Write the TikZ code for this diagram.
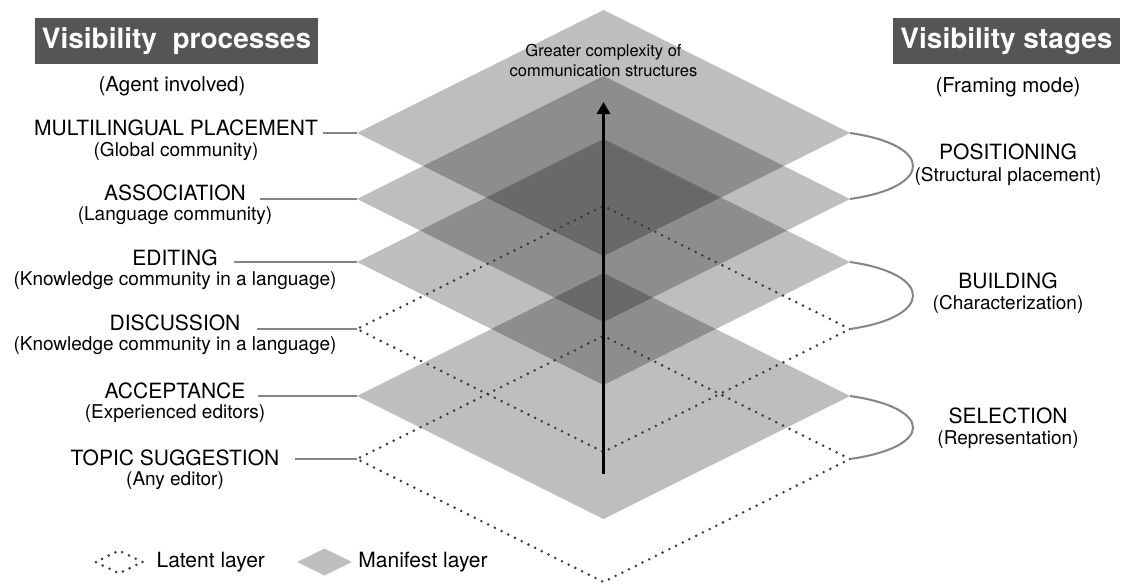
\documentclass[tikz,border=0pt]{standalone}
\usepackage{fontspec}
\setmainfont{TeX Gyre Heros}
\usetikzlibrary{shapes.geometric,arrows.meta,positioning}
\definecolor{headgray}{HTML}{555555}
\definecolor{conngray}{HTML}{858585}
\definecolor{dotgray}{HTML}{3A3A3A}
\tikzset{
  stage/.style={diamond,inner sep=0pt,outer sep=0pt,minimum width=493pt,minimum height=246pt},
  manifest/.style={fill=black,fill opacity=0.255},
  latent/.style={draw=dotgray,line width=2.8pt,line cap=round,dash pattern=on 0pt off 7.5pt},
  proclabel/.style={font=\fontsize{21}{25}\selectfont,inner sep=0pt,anchor=base},
  procnote/.style={font=\fontsize{19}{22}\selectfont,inner sep=0pt,anchor=base},
  headbox/.style={fill=headgray,text=white,font=\fontsize{28}{32}\selectfont\bfseries,minimum height=46pt,inner xsep=7pt},
  conn/.style={draw=conngray,line width=2pt},
}

\begin{document}
\begin{tikzpicture}[x=1pt,y=-1pt]
  \fill[white] (0,0) rectangle (1123,584);
  \useasboundingbox (0,0) rectangle (1123,584);

  % layers, top to bottom
  \node[stage,manifest] (mlp) at (603.5,133) {};
  \node[stage,manifest] (asc) at (603.5,199) {};
  \node[stage,manifest] (edi) at (603.5,262) {};
  \node[stage,manifest] (acc) at (603.5,396) {};
  \node[stage,latent] (dis) at (603.5,329) {};
  \node[stage,latent] (tsg) at (603.5,459) {};

  % complexity arrow
  \coordinate (foot) at (603.5,474);
  \coordinate (tip) at (603.5,102);
  \draw[line width=3.3pt,-{Triangle[length=12pt,width=13pt]}] (foot) -- (tip);
  \node[font=\fontsize{16.5}{20}\selectfont,align=center,inner sep=0pt] (cplx) at (603.5,60.5)
    {Greater complexity of\\communication structures};

  % headers
  \node[headbox] (vp) at (176.5,41) {Visibility\ \ processes};
  \node[font=\fontsize{20.5}{24}\selectfont,inner sep=0pt,anchor=base] (vp-s) at (172,91) {(Agent involved)};
  \node[headbox] (vs) at (1006.5,41) {Visibility stages};
  \node[font=\fontsize{20.5}{24}\selectfont,inner sep=0pt,anchor=base] (vs-s) at (1008,92) {(Framing mode)};

  % processes
  \node[proclabel] (mlp-t) at (176,135.5) {MULTILINGUAL PLACEMENT};
  \node[procnote,below=20.5pt of mlp-t.base,anchor=base] (mlp-s) {(Global community)};
  \node[proclabel] (asc-t) at (175,200) {ASSOCIATION};
  \node[procnote,below=20.5pt of asc-t.base,anchor=base] (asc-s) {(Language community)};
  \node[proclabel] (edi-t) at (175,265) {EDITING};
  \node[procnote,below=20.5pt of edi-t.base,anchor=base] (edi-s) {(Knowledge community in a language)};
  \node[proclabel] (dis-t) at (175,330) {DISCUSSION};
  \node[procnote,below=20.5pt of dis-t.base,anchor=base] (dis-s) {(Knowledge community in a language)};
  \node[proclabel] (acc-t) at (175,398) {ACCEPTANCE};
  \node[procnote,below=20.5pt of acc-t.base,anchor=base] (acc-s) {(Experienced editors)};
  \node[proclabel] (tsg-t) at (175,465) {TOPIC SUGGESTION};
  \node[procnote,below=20.5pt of tsg-t.base,anchor=base] (tsg-s) {(Any editor)};

  \draw[conn] ([xshift=5pt]mlp-t.east |- mlp.west) -- (mlp.west);
  \draw[conn] ([xshift=14pt]asc-t.east |- asc.west) -- (asc.west);
  \draw[conn] ([xshift=16pt]edi-t.east |- edi.west) -- (edi.west);
  \draw[conn] ([xshift=16pt]dis-t.east |- dis.west) -- (dis.west);
  \draw[conn] ([xshift=12pt]acc-t.east |- acc.west) -- (acc.west);
  \draw[conn] ([xshift=16pt]tsg-t.east |- tsg.west) -- (tsg.west);

  % stages
  \node[proclabel] (pos-t) at (1008,159) {POSITIONING};
  \node[procnote,below=22pt of pos-t.base,anchor=base] (pos-s) {(Structural placement)};
  \node[proclabel] (bld-t) at (1008,288) {BUILDING};
  \node[procnote,below=21.5pt of bld-t.base,anchor=base] (bld-s) {(Characterization)};
  \node[proclabel] (sel-t) at (1008,423) {SELECTION};
  \node[procnote,below=21.5pt of sel-t.base,anchor=base] (sel-s) {(Representation)};

  \draw[conn] (mlp.east) .. controls +(84,12) and +(84,-12) .. (asc.east);
  \draw[conn] (edi.east) .. controls +(84,12) and +(84,-12) .. (dis.east);
  \draw[conn] (acc.east) .. controls +(84,12) and +(84,-12) .. (tsg.east);

  % legend
  \node[diamond,latent,inner sep=0pt,minimum width=48pt,minimum height=24pt] (leg-lat) at (119,562) {};
  \node[proclabel,anchor=west,right=12pt of leg-lat] (leg-lat-t) {Latent layer};
  \node[diamond,manifest,inner sep=0pt,minimum width=55pt,minimum height=27pt] (leg-man) at (324.5,562) {};
  \node[proclabel,anchor=west,right=6pt of leg-man] (leg-man-t) {Manifest layer};
\end{tikzpicture}
\end{document}
